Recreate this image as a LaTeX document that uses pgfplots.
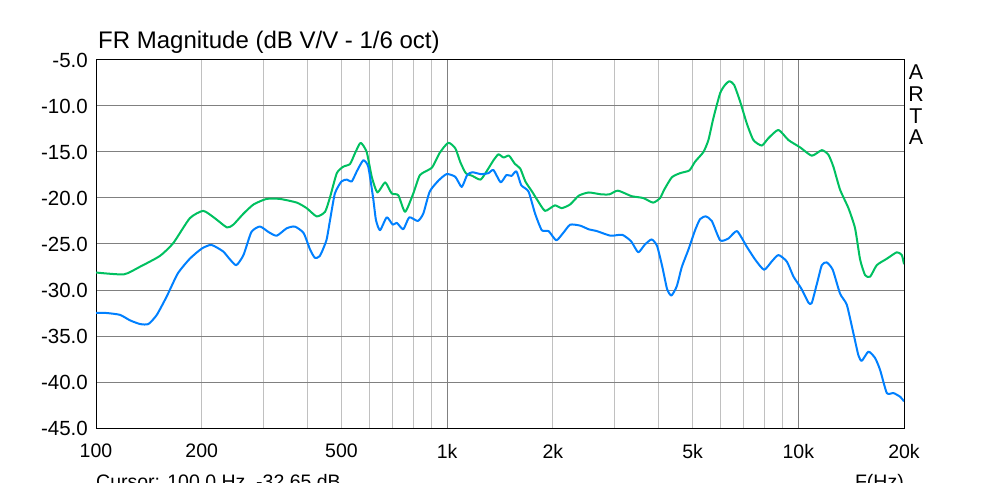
\documentclass[border=0pt]{standalone}
\usepackage{fontspec}
\setmainfont{Liberation Sans}
\usepackage{pgfplots}
\pgfplotsset{compat=1.18}
\definecolor{frgreen}{RGB}{0,192,96}
\definecolor{frblue}{RGB}{0,128,255}
\definecolor{gridmaj}{RGB}{128,128,128}
\definecolor{gridmin}{RGB}{192,192,192}
\begin{document}
\begin{tikzpicture}[x=1pt,y=1pt]
\clip (0,0) rectangle (1000,482);
\begin{axis}[
  at={(96pt,54pt)}, anchor=south west,
  scale only axis, width=808pt, height=368pt,
  xmode=log, xmin=100, xmax=20000, ymin=-45, ymax=-5,
  xtick={100,200,500,1000,2000,5000,10000,20000},
  xticklabels={100,200,500,1k,2k,5k,10k,20k},
  minor xtick={200,300,400,500,600,700,800,900,2000,3000,4000,5000,6000,7000,8000,9000,20000},
  ytick={-45,-40,-35,-30,-25,-20,-15,-10,-5},
  yticklabels={-45.0,-40.0,-35.0,-30.0,-25.0,-20.0,-15.0,-10.0,-5.0},
  xmajorgrids=false, xminorgrids=true, ymajorgrids=true,
  minor grid style={gridmin, line width=1pt},
  major grid style={gridmaj, line width=1pt},
  extra x ticks={1000,10000}, extra x tick labels={},
  extra x tick style={grid=major},
  major tick length=0pt, minor tick length=0pt,
  axis line style={black, line width=1pt},
  ticklabel style={font=\fontsize{19.5}{22}\selectfont, inner sep=0pt},
  xticklabel style={anchor=north, yshift=-16pt},
  yticklabel style={anchor=east, xshift=-8pt, font=\fontsize{20.5}{22}\selectfont},
  clip=true,
]
\addplot[frgreen, line width=2pt, line join=round, smooth, tension=0.35] coordinates {
(100,-28.1) (120,-28.3) (133,-27.5) (152,-26.3) (166,-24.9) (185,-22.2) (202,-21.4)
(218,-22.2) (236,-23.2) (246,-22.9) (263,-21.7) (281,-20.7) (306,-20.1) (334,-20.1)
(373,-20.5) (398,-21.1) (425,-22.0) (449,-21.5) (464,-19.9) (485,-17.3) (506,-16.6)
(529,-16.3) (547,-15.1) (567,-14.0) (590,-15.0) (610,-17.7) (633,-19.4) (666,-18.3)
(695,-19.5) (726,-19.7) (759,-21.5) (801,-19.5) (837,-17.5) (905,-16.7) (952,-15.1)
(1007,-14.0) (1055,-14.6) (1090,-16.1) (1130,-17.3) (1180,-17.6) (1245,-18.0) (1300,-17.0)
(1355,-15.9) (1400,-15.25) (1447,-15.6) (1500,-15.4) (1560,-16.3) (1615,-16.8) (1670,-18.2)
(1745,-19.3) (1805,-20.2) (1900,-21.4) (2025,-20.8) (2120,-21.1) (2240,-20.7) (2370,-19.75)
(2530,-19.4) (2740,-19.6) (2900,-19.6) (3065,-19.2) (3350,-19.8) (3615,-20.0) (3860,-20.5)
(4040,-20.0) (4150,-19.1) (4363,-17.75) (4606,-17.3) (4896,-17.0) (5082,-16.05) (5367,-15.0)
(5546,-13.7) (5731,-11.3) (5990,-8.6) (6187,-7.7) (6365,-7.3) (6563,-7.7) (6827,-9.5)
(7134,-11.9) (7450,-13.7) (7870,-14.3) (8220,-13.5) (8776,-12.6) (9372,-13.7) (10120,-14.5)
(10925,-15.4) (11667,-14.8) (12180,-15.3) (12585,-16.6) (13150,-19.1) (13890,-21.1) (14510,-23.3)
(14997,-26.7) (15500,-28.4) (16020,-28.55) (16730,-27.3) (17870,-26.6) (19080,-25.9) (19710,-26.2)
(20000,-27.2)
};
\addplot[frblue, line width=2pt, line join=round, smooth, tension=0.35] coordinates {
(100,-32.5) (107,-32.5) (117,-32.7) (125,-33.3) (133.5,-33.7) (141,-33.7) (149,-32.7)
(159,-30.7) (171,-28.2) (185,-26.6) (200,-25.5) (213,-25.1) (230,-25.8) (241,-26.7)
(251,-27.3) (263,-26.2) (277,-23.7) (293,-23.1) (310,-23.7) (327,-24.1) (349,-23.3)
(368,-23.1) (390,-23.8) (407,-25.6) (420,-26.5) (434,-26.3) (453,-24.6) (464,-22.4)
(479,-19.5) (500,-18.2) (518,-18.0) (535,-18.2) (553,-17.1) (577,-15.9) (596,-16.6)
(615,-19.9) (627,-22.4) (644,-23.5) (673,-22.1) (700,-22.9) (719,-22.7) (750,-23.4)
(780,-22.1) (825,-22.5) (855,-21.7) (892,-19.3) (945,-18.1) (997,-17.4) (1055,-17.7)
(1100,-18.8) (1140,-17.5) (1180,-17.2) (1245,-17.4) (1310,-17.3) (1355,-16.96) (1420,-18.3)
(1475,-17.5) (1525,-17.6) (1575,-17.1) (1625,-18.6) (1705,-19.3) (1780,-21.7) (1860,-23.5)
(1945,-23.6) (2045,-24.6) (2140,-23.8) (2240,-22.9) (2390,-23.0) (2530,-23.4) (2670,-23.6)
(2920,-24.1) (3150,-24.0) (3340,-24.7) (3500,-25.9) (3650,-25.1) (3820,-24.5) (3960,-25.2)
(4100,-27.5) (4230,-29.9) (4350,-30.6) (4506,-29.6) (4658,-27.5) (4860,-25.65) (5082,-23.5)
(5250,-22.3) (5450,-22.0) (5672,-22.5) (5990,-24.6) (6325,-24.4) (6690,-23.6) (7134,-25.3)
(7540,-26.7) (7990,-27.8) (8400,-26.9) (8776,-26.2) (9270,-26.9) (9690,-28.55) (10180,-29.8)
(10700,-31.4) (10925,-31.4) (11300,-29.3) (11667,-27.3) (12050,-27.0) (12530,-27.8) (13150,-30.4)
(13740,-31.6) (14350,-34.7) (14830,-37.1) (15160,-37.7) (15840,-36.7) (16550,-37.4) (17100,-38.7)
(17870,-41.2) (18660,-41.2) (19490,-41.6) (20000,-42.1)
};
\end{axis}
\node[anchor=base west, inner sep=0pt, font=\fontsize{24}{28}\selectfont] at (98,433) {FR Magnitude (dB V/V - 1/6 oct)};
\node[anchor=base, inner sep=0pt, font=\fontsize{21.4}{24}\selectfont] at (916,402.7) {A};
\node[anchor=base, inner sep=0pt, font=\fontsize{21.4}{24}\selectfont] at (916,380.3) {R};
\node[anchor=base, inner sep=0pt, font=\fontsize{21.4}{24}\selectfont] at (916,358.7) {T};
\node[anchor=base, inner sep=0pt, font=\fontsize{21.4}{24}\selectfont] at (916,337) {A};
\node[anchor=base west, inner sep=0pt, font=\fontsize{19.5}{22}\selectfont] at (96,-6) {Cursor: 100.0 Hz, -32.65 dB};
\node[anchor=base east, inner sep=0pt, font=\fontsize{19.5}{22}\selectfont] at (904,-6) {F(Hz)};
\end{tikzpicture}
\end{document}
